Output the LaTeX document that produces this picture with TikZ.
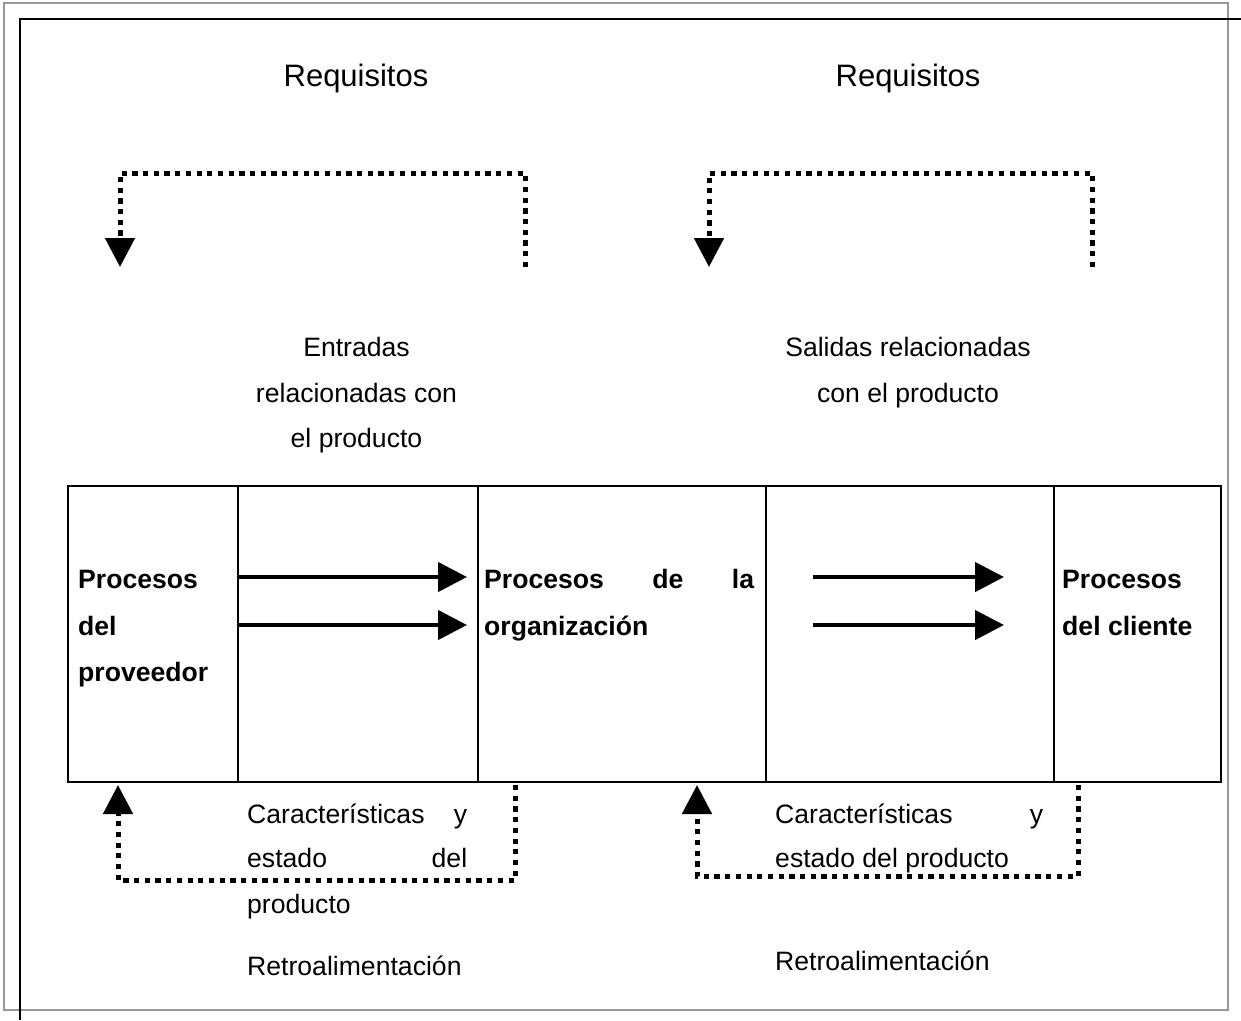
\documentclass[tikz,border=0pt]{standalone}
\usepackage{fontspec}
\setmainfont{Liberation Sans}
\usetikzlibrary{arrows.meta}
\begin{document}
\begin{tikzpicture}[x=1pt,y=-1pt,
  txt/.style={inner sep=0pt,anchor=base west,font=\fontsize{26.6pt}{32pt}\selectfont},
  ctxt/.style={inner sep=0pt,anchor=base,font=\fontsize{26.6pt}{32pt}\selectfont},
  btxt/.style={inner sep=0pt,anchor=base west,font=\fontsize{26.6pt}{32pt}\selectfont\bfseries},
  reqtxt/.style={inner sep=0pt,anchor=base,font=\fontsize{31pt}{36pt}\selectfont},
  cell/.style={draw=black,line width=2.2pt,inner sep=0pt,anchor=north west,minimum height=296pt},
  flow/.style={line width=4.6pt,-{Triangle[length=29pt,width=29pt]}},
  feedback/.style={line width=5pt,dash pattern=on 5.2pt off 5.5pt,-{Triangle[length=29pt,width=29pt]}}]
\useasboundingbox (0,0) rectangle (1241,1020);

% page frame
\draw[line width=2.2pt,draw=black!40] (4,3) rectangle (1228,1010);
\draw[line width=2.2pt] (20,1020) -- (20,19) -- (1241,19);

% process table
\node[cell,minimum width=170pt] (prov) at (67,485) {};
\node[cell,minimum width=240pt] (inzone) at (237,485) {};
\node[cell,minimum width=288pt] (org) at (477,485) {};
\node[cell,minimum width=288pt] (outzone) at (765,485) {};
\node[cell,minimum width=167pt] (cli) at (1053,485) {};

% requirement loops (top)
\coordinate (reqAs) at (525,267);
\coordinate (reqAc1) at (525,173);
\coordinate (reqAc2) at (120,173);
\coordinate (reqAe) at (120,267);
\draw[feedback] (reqAs) -- (reqAc1) -- (reqAc2) -- (reqAe);
\coordinate (reqBs) at (1092,267);
\coordinate (reqBc1) at (1092,173);
\coordinate (reqBc2) at (709,173);
\coordinate (reqBe) at (709,267);
\draw[feedback] (reqBs) -- (reqBc1) -- (reqBc2) -- (reqBe);

\node[reqtxt] (req1) at (356,86) {Requisitos};
\node[reqtxt] (req2) at (908,86) {Requisitos};

% product inputs and outputs
\node[ctxt] (in1) at (356.5,356) {Entradas};
\node[ctxt] (in2) at (356.5,402) {relacionadas con};
\node[ctxt] (in3) at (356.5,447) {el producto};
\node[ctxt] (out1) at (908,356) {Salidas relacionadas};
\node[ctxt] (out2) at (908,402) {con el producto};

% flows through the table
\coordinate (fa1) at (237,577);
\coordinate (fa2) at (467,577);
\coordinate (fb1) at (237,625);
\coordinate (fb2) at (467,625);
\coordinate (fc1) at (813,577);
\coordinate (fc2) at (1004,577);
\coordinate (fd1) at (813,625);
\coordinate (fd2) at (1004,625);
\draw[flow] (fa1) -- (fa2);
\draw[flow] (fb1) -- (fb2);
\draw[flow] (fc1) -- (fc2);
\draw[flow] (fd1) -- (fd2);

% cell labels
\node[btxt] (p1) at (78,588) {Procesos};
\node[btxt] (p2) at (78,635) {del};
\node[btxt] (p3) at (78,681) {proveedor};
\node[btxt] (o1) at (484,588) {\makebox[270pt][s]{Procesos de la}};
\node[btxt] (o2) at (484,635) {organización};
\node[btxt] (c1) at (1062,588) {Procesos};
\node[btxt] (c2) at (1062,635) {del cliente};

% feedback loops (bottom)
\coordinate (fbAs) at (515,785);
\coordinate (fbAc1) at (515,880);
\coordinate (fbAc2) at (118,880);
\coordinate (fbAe) at (118,785);
\draw[feedback] (fbAs) -- (fbAc1) -- (fbAc2) -- (fbAe);
\coordinate (fbBs) at (1078,785);
\coordinate (fbBc1) at (1078,876);
\coordinate (fbBc2) at (697,876);
\coordinate (fbBe) at (697,785);
\draw[feedback] (fbBs) -- (fbBc1) -- (fbBc2) -- (fbBe);

\node[txt] (ca1) at (247,823) {\makebox[220pt][s]{Características y}};
\node[txt] (ca2) at (247,867) {\makebox[220pt][s]{estado del}};
\node[txt] (ca3) at (247,913) {producto};
\node[txt] (ra) at (247,975) {Retroalimentación};
\node[txt] (cb1) at (775,823) {\makebox[268pt][s]{Características y}};
\node[txt] (cb2) at (775,867) {estado del producto};
\node[txt] (rb) at (775,970) {Retroalimentación};
\end{tikzpicture}
\end{document}
